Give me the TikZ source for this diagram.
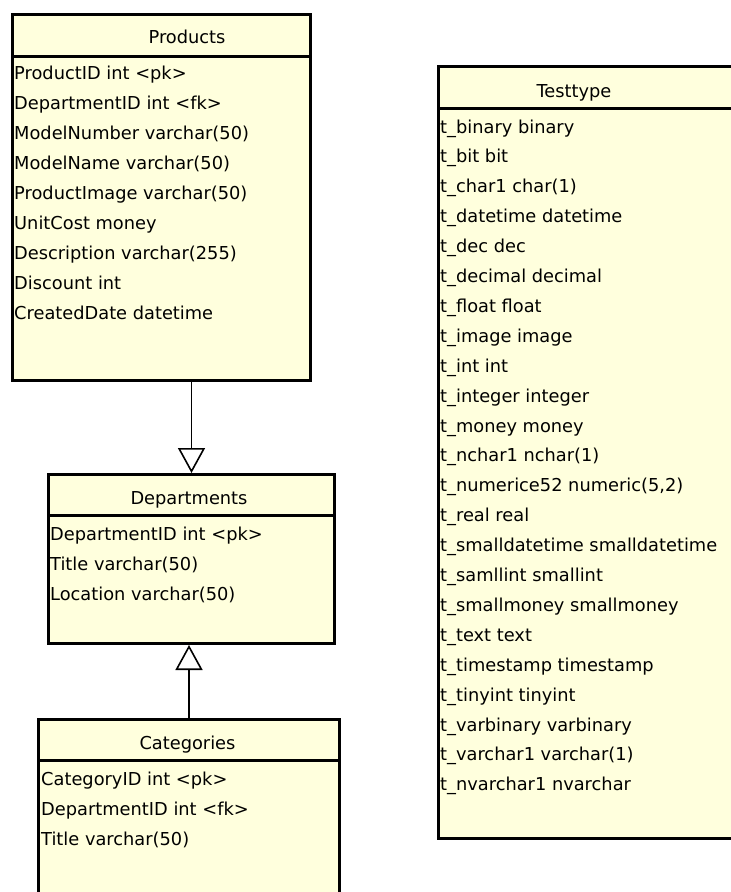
\documentclass[tikz,border=0pt]{standalone}
\usepackage{fontspec}
\setmainfont{DejaVu Sans}
\usetikzlibrary{arrows.meta}
\definecolor{tblfill}{RGB}{255,255,221}
\tikzset{
  tbl/.style={draw=black, line width=3pt, fill=tblfill, rectangle, anchor=north west, inner sep=0pt},
  sep/.style={draw=black, line width=3pt},
  hdr/.style={anchor=base, inner sep=0pt, font=\fontsize{17.8}{20}\selectfont},
  fld/.style={anchor=base west, inner sep=0pt, font=\fontsize{17.8}{20}\selectfont},
  gen/.style={line width=1.6pt, -{Triangle[fill=white, length=25pt, width=27pt]}}
}
\begin{document}
\begin{tikzpicture}[x=1pt, y=-1pt]
\useasboundingbox (0,0) rectangle (731,892);
\fill[white] (0,0) rectangle (731,892);
\clip (0,0) rectangle (731,892);

% Products
\node[tbl, minimum width=298pt, minimum height=366pt] (prod) at (11,13) {};
\draw[sep] (prod.west |- 0,56) -- (prod.east |- 0,56);
\node[hdr] (prodh) at (187,43) {Products};
\foreach \t [count=\i from 0] in {ProductID int <pk>, DepartmentID int <fk>, ModelNumber varchar(50), ModelName varchar(50), ProductImage varchar(50), UnitCost money, Description varchar(255), Discount int, CreatedDate datetime}
  \node[fld] (prod\i) at (14,79+30*\i) {\t};

% Departments
\node[tbl, minimum width=286pt, minimum height=169pt] (dept) at (47,473) {};
\draw[sep] (dept.west |- 0,515) -- (dept.east |- 0,515);
\node[hdr] (depth) at (189,504) {Departments};
\foreach \t [count=\i from 0] in {DepartmentID int <pk>, Title varchar(50), Location varchar(50)}
  \node[fld] (dept\i) at (50,540+30*\i) {\t};

% Categories
\node[tbl, minimum width=301pt, minimum height=250pt] (cat) at (37,718) {};
\draw[sep] (cat.west |- 0,760) -- (cat.east |- 0,760);
\node[hdr] (cath) at (187.5,749) {Categories};
\foreach \t [count=\i from 0] in {CategoryID int <pk>, DepartmentID int <fk>, Title varchar(50)}
  \node[fld] (cat\i) at (41,785+30*\i) {\t};

% Testtype
\node[tbl, minimum width=330pt, minimum height=772pt] (tt) at (437,65) {};
\draw[sep] (tt.west |- 0,108) -- (tt.east |- 0,108);
\node[hdr] (tth) at (574,97) {Testtype};
\foreach \t [count=\i from 0] in {t\_binary binary, t\_bit bit, t\_char1 char(1), t\_datetime datetime, t\_dec dec, t\_decimal decimal, t\_float float, t\_image image, t\_int int, t\_integer integer, t\_money money, t\_nchar1 nchar(1), t\_numerice52 numeric(5{,}2), t\_real real, t\_smalldatetime smalldatetime, t\_samllint smallint, t\_smallmoney smallmoney, t\_text text, t\_timestamp timestamp, t\_tinyint tinyint, t\_varbinary varbinary, t\_varchar1 varchar(1), t\_nvarchar1 nvarchar}
  \node[fld] (tt\i) at (440,133+29.9*\i) {\t};

% Generalisation connectors
\draw[gen] (dept.north |- prod.south) -- (dept.north);
\draw[gen] (cat.north) -- (cat.north |- dept.south);
\end{tikzpicture}
\end{document}
